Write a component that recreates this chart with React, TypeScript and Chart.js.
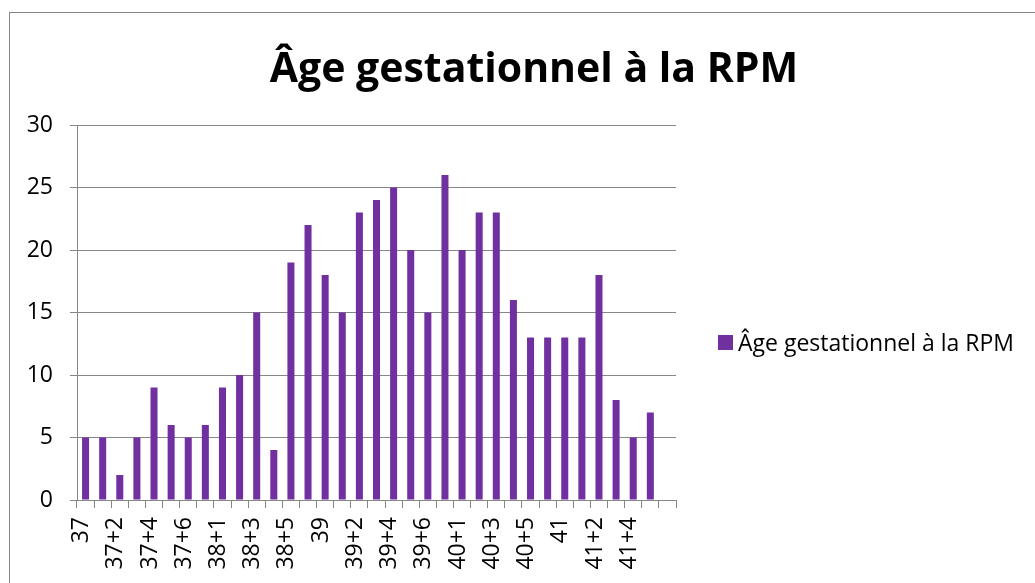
import { useEffect, useRef } from "react";
import { Chart, registerables } from "chart.js";

Chart.register(...registerables);

const chartTitle = "Âge gestationnel à la RPM";
const seriesName = "Âge gestationnel à la RPM";

const categories = [
  "37", "37+1", "37+2", "37+3", "37+4", "37+5", "37+6",
  "38", "38+1", "38+2", "38+3", "38+4", "38+5", "38+6",
  "39", "39+1", "39+2", "39+3", "39+4", "39+5", "39+6",
  "40", "40+1", "40+2", "40+3", "40+4", "40+5", "40+6",
  "41", "41+1", "41+2", "41+3", "41+4", "41+5", "",
];

const counts: (number | null)[] = [
  5, 5, 2, 5, 9, 6, 5,
  6, 9, 10, 15, 4, 19, 22,
  18, 15, 23, 24, 25, 20, 15,
  26, 20, 23, 23, 16, 13, 13,
  13, 13, 18, 8, 5, 7, null,
];

const yMin = 0;
const yMax = 30;
const yStep = 5;

const BAR = "#7030A0";
const GRID = "#868686";
const FONT = '"Open Sans", sans-serif';

export default function App() {
  const ref = useRef<HTMLCanvasElement | null>(null);

  useEffect(() => {
    if (!ref.current) return;
    const decor = {
      id: "decor",
      beforeDraw(chart: any) {
        const ctx = chart.ctx;
        ctx.save();
        ctx.fillStyle = "#fff";
        ctx.fillRect(0, 0, chart.width, chart.height);
        ctx.strokeStyle = GRID;
        ctx.lineWidth = 1;
        ctx.strokeRect(9.5, 12.5, 1200, 1000);
        ctx.restore();
      },
      afterDraw(chart: any) {
        const ctx = chart.ctx;
        ctx.save();
        ctx.fillStyle = "#000";
        ctx.textBaseline = "alphabetic";
        ctx.textAlign = "center";
        ctx.font = `bold 41px ${FONT}`;
        ctx.fillText(chartTitle, 534, 82);
        ctx.fillStyle = BAR;
        ctx.fillRect(718, 335, 15, 15);
        ctx.fillStyle = "#000";
        ctx.textAlign = "left";
        ctx.font = `23px ${FONT}`;
        ctx.fillText(seriesName, 738, 351);
        ctx.restore();
      },
    };

    const chart = new Chart(ref.current, {
      type: "bar",
      data: {
        labels: categories,
        datasets: [
          {
            label: seriesName,
            data: counts,
            backgroundColor: BAR,
            borderWidth: 0,
            barPercentage: 0.41,
            categoryPercentage: 1,
          },
        ],
      },
      options: {
        responsive: false,
        animation: false,
        layout: { padding: { left: 0, top: 125, right: 359, bottom: 0 } },
        plugins: {
          legend: { display: false },
          title: { display: false },
          tooltip: { enabled: false },
        },
        scales: {
          x: {
            afterFit: (s: any) => {
              s.height = 83;
            },
            grid: {
              offset: true,
              drawOnChartArea: false,
              drawTicks: true,
              tickLength: 8,
              color: GRID,
            },
            border: { color: GRID },
            ticks: {
              autoSkip: false,
              maxRotation: 90,
              minRotation: 90,
              padding: 9,
              labelOffset: -4,
              color: "#000",
              font: { family: FONT, size: 23 },
              callback: (_v: any, i: number) => (i % 2 === 0 ? categories[i] : ""),
            },
          },
          y: {
            min: yMin,
            max: yMax,
            afterFit: (s: any) => {
              s.width = 77;
            },
            grid: { color: GRID, tickLength: 7 },
            border: { color: GRID },
            ticks: {
              stepSize: yStep,
              padding: 17,
              color: "#000",
              font: { family: FONT, size: 23 },
            },
          },
        },
      },
      plugins: [decor],
    });
    return () => chart.destroy();
  }, []);

  return (
    <div style={{ position: "absolute", left: 0, top: 0, width: 1035, height: 583, overflow: "hidden" }}>
      <canvas ref={ref} width={1035} height={583} style={{ display: "block" }} />
    </div>
  );
}
